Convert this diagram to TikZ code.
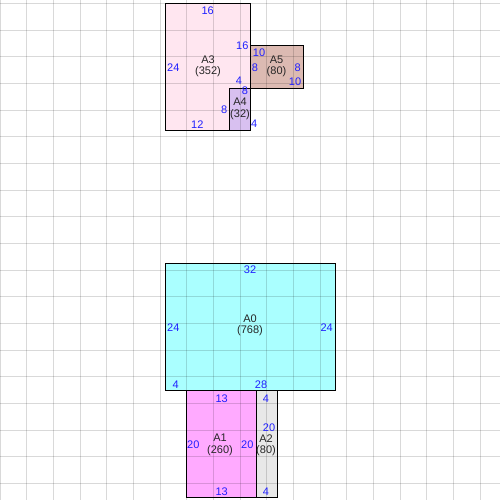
\documentclass[tikz,border=0pt]{standalone}
\usepackage{fontspec}
\setmainfont{Liberation Sans}
\definecolor{gridc}{HTML}{D0D0D0}
\definecolor{cA3}{HTML}{FFE6F0}
\definecolor{cA5}{HTML}{DCBAB2}
\definecolor{cA4}{HTML}{D8C0F0}
\definecolor{cA0}{HTML}{AAFFFF}
\definecolor{cA1}{HTML}{FFAAFF}
\definecolor{cA2}{HTML}{E8E8E8}
\definecolor{lblue}{HTML}{2020FF}
\begin{document}
\begin{tikzpicture}[x=1pt,y=-1pt,
  boxfill/.style={fill=#1,draw=none,inner sep=0pt,outer sep=0pt,anchor=north west},
  boxline/.style={draw=black,line width=1pt},
  gridline/.style={black,opacity=0.15,line width=0.9pt},
  dim/.style={text=lblue,inner sep=0pt,font=\fontsize{11}{11.7}\selectfont},
  ttl/.style={text=black!85,inner sep=0pt,anchor=north,align=center,font=\fontsize{11}{11.7}\selectfont}]
\useasboundingbox (0,0) rectangle (500,500);
\fill[white] (0,0) rectangle (500,500);
% boxes (fills)
\node[boxfill=cA3,minimum width=85pt,minimum height=127.5pt] (A3) at (165.7,3.3) {};
\node[boxfill=cA5,minimum width=53.125pt,minimum height=42.5pt] (A5) at (250.7,45.8) {};
\node[boxfill=cA4,minimum width=21.25pt,minimum height=42.5pt] (A4) at (229.45,88.3) {};
\node[boxfill=cA0,minimum width=170pt,minimum height=127.5pt] (A0) at (165.7,263.3) {};
\node[boxfill=cA1,minimum width=69.06pt,minimum height=106.25pt] (A1) at (186.95,390.8) {};
\node[boxfill=cA2,minimum width=21.25pt,minimum height=106.25pt] (A2) at (256.01,390.8) {};
% grid
\foreach \i in {0,...,18} {
  \draw[gridline] ({26.6667*\i},0) -- ({26.6667*\i},500);
  \draw[gridline] (0,{3.3333+26.6667*\i}) -- (500,{3.3333+26.6667*\i});
}
% borders
\foreach \b in {A3,A5,A4,A0,A1,A2} {
  \draw[boxline] (\b.north west) rectangle (\b.south east);
}
% titles
\node[ttl] (tA3) at (208,55.4) {A3\\(352)};
\node[ttl] (tA5) at (276.5,55.4) {A5\\(80)};
\node[ttl] (tA4) at (240,97.6) {A4\\(32)};
\node[ttl] (tA0) at (250,314.4) {A0\\(768)};
\node[ttl] (tA1) at (220,433.8) {A1\\(260)};
\node[ttl] (tA2) at (266,434.4) {A2\\(80)};
% dimension labels
\node[dim] (d1) at (207.7,11) {16};
\node[dim] (d2) at (173.3,67.7) {24};
\node[dim] (d3) at (242.3,45.7) {16};
\node[dim] (d4) at (239,81) {4};
\node[dim] (d5) at (197.3,125) {12};
\node[dim] (d6) at (259,52.3) {10};
\node[dim] (d7) at (255,67.7) {8};
\node[dim] (d8) at (297.7,67.7) {8};
\node[dim] (d9) at (295,81.7) {10};
\node[dim] (d10) at (245,90.7) {8};
\node[dim] (d11) at (224.3,109.3) {8};
\node[dim] (d12) at (254.3,124) {4};
\node[dim] (d13) at (250,270) {32};
\node[dim] (d14) at (173.3,327.3) {24};
\node[dim] (d15) at (326.7,327.3) {24};
\node[dim] (d16) at (175.7,385) {4};
\node[dim] (d17) at (261,385) {28};
\node[dim] (d18) at (221.7,399) {13};
\node[dim] (d19) at (193.3,444.3) {20};
\node[dim] (d20) at (247.3,444.3) {20};
\node[dim] (d21) at (221.7,491.7) {13};
\node[dim] (d22) at (266,399) {4};
\node[dim] (d23) at (269,427.3) {20};
\node[dim] (d24) at (266,491.7) {4};
\end{tikzpicture}
\end{document}
